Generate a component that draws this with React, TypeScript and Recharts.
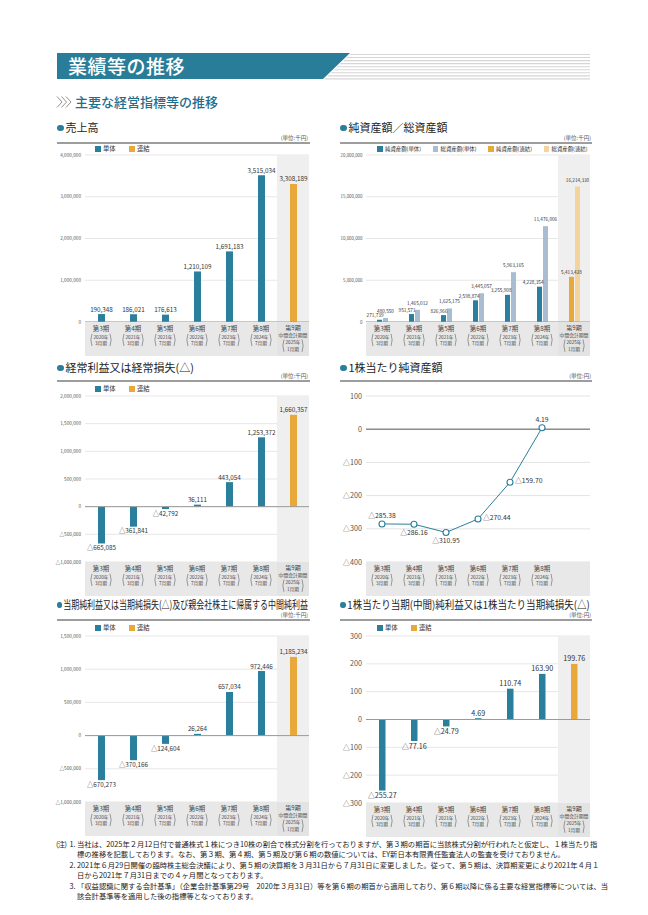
import React from "react";
import {
  BarChart,
  Bar,
  LineChart,
  Line,
  XAxis,
  YAxis,
  CartesianGrid,
  ReferenceArea,
  ReferenceLine,
  LabelList,
  Cell,
} from "recharts";

// 期ラベル
const periods = ["第3期", "第4期", "第5期", "第6期", "第7期", "第8期", "第9期"];
const fiscalYears = ["2020年", "2021年", "2021年", "2022年", "2023年", "2024年", "2025年"];
const fiscalMonths = ["3月期", "3月期", "7月期", "7月期", "7月期", "7月期", "1月期"];
const interimPeriod = "第9期";

// 単位:千円 / 円
const sales = [190348, 186021, 176613, 1210109, 1691183, 3515034, 3308189];
const netAssets = [271739, 951571, 826966, 2598874, 3255908, 4228354, 5413428];
const totalAssets = [480550, 1465012, 1625175, 3445057, 5963165, 11476006, 16214330];
const ordinaryIncome = [-665085, -361841, -42792, 36111, 443054, 1253372, 1660357];
const bookValuePerShare = [-285.38, -286.16, -310.95, -270.44, -159.7, 4.19, null];
const netIncome = [-670273, -370166, -124604, 26264, 657034, 972446, 1185234];
const earningsPerShare = [-255.27, -77.16, -24.79, 4.69, 110.74, 163.9, 199.76];

const salesTicks = [0, 1000000, 2000000, 3000000, 4000000];
const assetTicks = [0, 5000000, 10000000, 15000000, 20000000];
const ordinaryTicks = [-1000000, -500000, 0, 500000, 1000000, 1500000, 2000000];
const bpsTicks = [-400, -300, -200, -100, 0, 100];
const netIncomeTicks = [-1000000, -500000, 0, 500000, 1000000, 1500000];
const epsTicks = [-300, -200, -100, 0, 100, 200, 300];

const bpsLabelSide = ["above", "below", "below", "right", "right", "above"];

const singleLegend = [
  { label: "単体", color: "#2a7f9c" },
  { label: "連結", color: "#e9a83a" },
];
const assetLegend = [
  { label: "純資産額(単体)", color: "#2a7f9c" },
  { label: "総資産額(単体)", color: "#a8bdd0" },
  { label: "純資産額(連結)", color: "#e9a83a" },
  { label: "総資産額(連結)", color: "#f4d49d" },
];

const noteLines = [
  "当社は、2025年２月12日付で普通株式１株につき10株の割合で株式分割を行っておりますが、第３期の期首に当該株式分割が行われたと仮定し、１株当たり指",
  "標の推移を記載しております。なお、第３期、第４期、第５期及び第６期の数値については、EY新日本有限責任監査法人の監査を受けておりません。",
  "2021年６月29日開催の臨時株主総会決議により、第５期の決算期を３月31日から７月31日に変更しました。従って、第５期は、決算期変更により2021年４月１",
  "日から2021年７月31日までの４ヶ月間となっております。",
  "「収益認識に関する会計基準」（企業会計基準第29号　2020年３月31日）等を第６期の期首から適用しており、第６期以降に係る主要な経営指標等については、当",
  "該会計基準等を適用した後の指標等となっております。",
];
const noteNumbers = ["1.", "", "2.", "", "3.", ""];

const TEAL = "#2a7f9c";
const ORANGE = "#e9a83a";
const LIGHT_BLUE = "#a8bdd0";
const LIGHT_ORANGE = "#f4d49d";
const GRID = "#dcdcdc";
const ZERO = "#9a9a9a";
const BAND = "#efefef";
const TEXT = "#333";
const FONT = "'Noto Sans CJK JP', 'Noto Sans', sans-serif";

const TOP_PAD = 8;
const AXIS_H = 36;

const fmtInt = (v: number) => (v < 0 ? "△" : "") + Math.abs(v).toLocaleString("en-US");
const fmtDec = (v: number) => (v < 0 ? "△" : "") + Math.abs(v).toFixed(2);

function PeriodTick(props: any) {
  const { x, y, payload, band, hideInterim } = props;
  const i = periods.indexOf(payload.value);
  const interim = payload.value === interimPeriod;
  const showText = !(interim && hideInterim);
  const fill = interim && !hideInterim ? "#e3e3e3" : "#e8e8e8";
  const pTop = interim ? 17.5 : 11.8;
  const pBot = pTop + 12.3;
  const pw = 10.5;
  return (
    <g>
      <rect x={x - band / 2} y={y} width={band} height={34} fill={fill} />
      {showText && (
        <g fill="#444" fontFamily={FONT}>
          <text x={x} y={y + (interim ? 8.4 : 9.2)} textAnchor="middle" fontSize={interim ? 6 : 6.4}>
            {payload.value}
          </text>
          {interim && (
            <text x={x} y={y + 15.4} textAnchor="middle" fontSize={4.8}>
              中間会計期間
            </text>
          )}
          <text x={x} y={y + (interim ? 22.4 : 16.9)} textAnchor="middle" fontSize={4.7}>
            {fiscalYears[i]}
          </text>
          <text x={x} y={y + (interim ? 28.8 : 23.4)} textAnchor="middle" fontSize={4.7}>
            {fiscalMonths[i]}
          </text>
          <path
            d={`M ${x - pw + 1.5} ${y + pTop} Q ${x - pw - 0.8} ${y + (pTop + pBot) / 2} ${x - pw + 1.5} ${y + pBot}`}
            stroke="#555"
            strokeWidth={0.55}
            fill="none"
          />
          <path
            d={`M ${x + pw - 1.5} ${y + pTop} Q ${x + pw + 0.8} ${y + (pTop + pBot) / 2} ${x + pw - 1.5} ${y + pBot}`}
            stroke="#555"
            strokeWidth={0.55}
            fill="none"
          />
        </g>
      )}
    </g>
  );
}

function makeBarLabel(fontSize: number, fmt: (v: number) => string) {
  return (p: any) => {
    const vb = p.viewBox ?? p;
    if (p.value == null || vb == null || vb.x == null) return null;
    const v = Number(p.value);
    const top = Math.min(vb.y, vb.y + vb.height);
    const bottom = Math.max(vb.y, vb.y + vb.height);
    const cx = vb.x + vb.width / 2;
    return (
      <text
        x={cx}
        y={v < 0 ? bottom + fontSize + 0.5 : top - 2.5}
        textAnchor="middle"
        fontSize={fontSize}
        fill={TEXT}
        fontFamily={FONT}
      >
        {fmt(v)}
      </text>
    );
  };
}

function SingleBarChart(props: {
  left: number;
  top: number;
  width: number;
  yWidth: number;
  rightPad: number;
  plotH: number;
  values: number[];
  ticks: number[];
  tickFont: number;
  labelFont: number;
  barSize: number;
  fmt: (v: number) => string;
}) {
  const { left, top, width, yWidth, rightPad, plotH, values, ticks, tickFont, labelFont, barSize, fmt } = props;
  const data = periods.map((p, i) => ({ period: p, value: values[i] }));
  const band = (width - yWidth - rightPad) / periods.length;
  const domain: [number, number] = [ticks[0], ticks[ticks.length - 1]];
  return (
    <div style={{ position: "absolute", left, top }}>
      <BarChart
        width={width}
        height={TOP_PAD + plotH + AXIS_H}
        data={data}
        margin={{ top: TOP_PAD, right: rightPad, bottom: 0, left: 0 }}
      >
        <ReferenceArea
          x1={interimPeriod}
          x2={interimPeriod}
          y1={domain[0]}
          y2={domain[1]}
          fill={BAND}
          fillOpacity={1}
          stroke="none"
          ifOverflow="visible"
        />
        <CartesianGrid vertical={false} stroke={GRID} strokeWidth={0.7} />
        <XAxis
          dataKey="period"
          height={AXIS_H}
          interval={0}
          axisLine={false}
          tickLine={false}
          tickSize={0}
          tickMargin={0}
          tick={(p: any) => <PeriodTick {...p} band={band} />}
        />
        <YAxis
          width={yWidth}
          domain={domain}
          ticks={ticks}
          interval={0}
          axisLine={false}
          tickLine={false}
          tickSize={4}
          tickMargin={0}
          tick={{ fontSize: tickFont, fill: "#555", fontFamily: FONT }}
          tickFormatter={fmtInt}
        />
        <ReferenceLine y={0} stroke={ZERO} strokeWidth={1} />
        <Bar dataKey="value" barSize={barSize} isAnimationActive={false}>
          {data.map((d) => (
            <Cell key={d.period} fill={d.period === interimPeriod ? ORANGE : TEAL} />
          ))}
          <LabelList dataKey="value" content={makeBarLabel(labelFont, fmt)} />
        </Bar>
      </BarChart>
    </div>
  );
}

function AssetChart({ left, top }: { left: number; top: number }) {
  const width = 256;
  const yWidth = 30;
  const rightPad = 2;
  const plotH = 167;
  const data = periods.map((p, i) => ({ period: p, net: netAssets[i], total: totalAssets[i] }));
  const band = (width - yWidth - rightPad) / periods.length;
  const fs = 4.7;
  const netLabel = (p: any) => {
    const vb = p.viewBox ?? p;
    if (p.value == null || vb == null) return null;
    const topY = Math.min(vb.y, vb.y + vb.height);
    const last = Number(p.value) === netAssets[netAssets.length - 1];
    return (
      <text
        x={last ? vb.x + vb.width / 2 : vb.x + vb.width + 1.5}
        y={topY - 2.5}
        textAnchor={last ? "middle" : "end"}
        fontSize={fs}
        fill={TEXT}
        fontFamily={FONT}
      >
        {fmtInt(Number(p.value))}
      </text>
    );
  };
  const totalLabel = (p: any) => {
    const vb = p.viewBox ?? p;
    if (p.value == null || vb == null) return null;
    const topY = Math.min(vb.y, vb.y + vb.height);
    return (
      <text x={vb.x + vb.width / 2} y={topY - 5} textAnchor="middle" fontSize={fs} fill={TEXT} fontFamily={FONT}>
        {fmtInt(Number(p.value))}
      </text>
    );
  };
  return (
    <div style={{ position: "absolute", left, top }}>
      <BarChart
        width={width}
        height={TOP_PAD + plotH + AXIS_H}
        data={data}
        margin={{ top: TOP_PAD, right: rightPad, bottom: 0, left: 0 }}
        barGap={1}
      >
        <ReferenceArea
          x1={interimPeriod}
          x2={interimPeriod}
          y1={0}
          y2={20000000}
          fill={BAND}
          fillOpacity={1}
          stroke="none"
          ifOverflow="visible"
        />
        <CartesianGrid vertical={false} stroke={GRID} strokeWidth={0.7} />
        <XAxis
          dataKey="period"
          height={AXIS_H}
          interval={0}
          axisLine={false}
          tickLine={false}
          tickSize={0}
          tickMargin={0}
          tick={(p: any) => <PeriodTick {...p} band={band} />}
        />
        <YAxis
          width={yWidth}
          domain={[0, 20000000]}
          ticks={assetTicks}
          interval={0}
          axisLine={false}
          tickLine={false}
          tickSize={3.5}
          tickMargin={0}
          tick={{ fontSize: 4.4, fill: "#555", fontFamily: FONT }}
          tickFormatter={fmtInt}
        />
        <ReferenceLine y={0} stroke={ZERO} strokeWidth={1} />
        <Bar dataKey="net" barSize={5} isAnimationActive={false}>
          {data.map((d) => (
            <Cell key={d.period} fill={d.period === interimPeriod ? ORANGE : TEAL} />
          ))}
          <LabelList dataKey="net" content={netLabel} />
        </Bar>
        <Bar dataKey="total" barSize={5} isAnimationActive={false}>
          {data.map((d) => (
            <Cell key={d.period} fill={d.period === interimPeriod ? LIGHT_ORANGE : LIGHT_BLUE} />
          ))}
          <LabelList dataKey="total" content={totalLabel} />
        </Bar>
      </BarChart>
    </div>
  );
}

function BookValueChart({ left, top }: { left: number; top: number }) {
  const width = 256;
  const yWidth = 30;
  const rightPad = 2;
  const plotH = 166;
  const data = periods.map((p, i) => ({ period: p, value: bookValuePerShare[i] }));
  const band = (width - yWidth - rightPad) / periods.length;
  const pointLabel = (p: any) => {
    const vb = p.viewBox ?? p;
    if (p.value == null || vb == null || vb.x == null) return null;
    const v = Number(p.value);
    const idx = p.index ?? bookValuePerShare.indexOf(v);
    const side = bpsLabelSide[idx] ?? "above";
    let x = vb.x;
    let y = vb.y - 5.5;
    let anchor: "middle" | "start" = "middle";
    if (side === "below") y = vb.y + 11;
    if (side === "right") {
      x = vb.x + 5;
      y = vb.y + 1;
      anchor = "start";
    }
    return (
      <text x={x} y={y} textAnchor={anchor} fontSize={6.8} fill={TEXT} fontFamily={FONT}>
        {fmtDec(v)}
      </text>
    );
  };
  return (
    <div style={{ position: "absolute", left, top }}>
      <LineChart
        width={width}
        height={TOP_PAD + plotH + AXIS_H}
        data={data}
        margin={{ top: TOP_PAD, right: rightPad, bottom: 0, left: 0 }}
      >
        <CartesianGrid vertical={false} stroke={GRID} strokeWidth={0.8} />
        <XAxis
          dataKey="period"
          scale="band"
          height={AXIS_H}
          interval={0}
          axisLine={false}
          tickLine={false}
          tickSize={0}
          tickMargin={0}
          tick={(p: any) => <PeriodTick {...p} band={band} hideInterim />}
        />
        <YAxis
          width={yWidth}
          domain={[-400, 100]}
          ticks={bpsTicks}
          interval={0}
          axisLine={false}
          tickLine={false}
          tickSize={4}
          tickMargin={0}
          tick={{ fontSize: 7.2, fill: "#555", fontFamily: FONT }}
          tickFormatter={fmtInt}
        />
        <ReferenceLine y={0} stroke="#8e8e8e" strokeWidth={1.6} />
        <Line
          dataKey="value"
          stroke={TEAL}
          strokeWidth={1}
          dot={{ r: 3, fill: "#fff", stroke: TEAL, strokeWidth: 1.1 }}
          isAnimationActive={false}
        >
          <LabelList dataKey="value" content={pointLabel} />
        </Line>
      </LineChart>
    </div>
  );
}

function Title({ left, top, text, fitWidth }: { left: number; top: number; text: string; fitWidth?: number }) {
  const ref = React.useRef<HTMLDivElement>(null);
  const [k, setK] = React.useState(1);
  React.useLayoutEffect(() => {
    if (fitWidth && ref.current) {
      const w = ref.current.offsetWidth;
      if (w > fitWidth) setK(fitWidth / w);
    }
  }, [fitWidth]);
  return (
    <div
      ref={ref}
      style={{
        position: "absolute",
        left,
        top,
        whiteSpace: "nowrap",
        fontSize: 11,
        lineHeight: "13px",
        color: "#222",
        transform: `scaleX(${k})`,
        transformOrigin: "left center",
      }}
    >
      <span
        style={{
          display: "inline-block",
          width: 6.5,
          height: 6.5,
          borderRadius: "50%",
          background: TEAL,
          marginRight: 2,
          verticalAlign: "1px",
        }}
      />
      {text}
    </div>
  );
}

function Unit({ right, top, text }: { right: number; top: number; text: string }) {
  return (
    <div
      style={{
        position: "absolute",
        left: right - 60,
        width: 60,
        top,
        textAlign: "right",
        fontSize: 5.5,
        lineHeight: "7px",
        color: "#555",
      }}
    >
      {text}
    </div>
  );
}

function Rule({ left, width, top }: { left: number; width: number; top: number }) {
  return <div style={{ position: "absolute", left, width, top, height: 2, background: "#9d9d9d" }} />;
}

function LegendRow(props: {
  left: number;
  top: number;
  items: { label: string; color: string }[];
  itemWidth: number;
  fontSize: number;
  box: number;
}) {
  const { left, top, items, itemWidth, fontSize, box } = props;
  return (
    <div
      style={{
        position: "absolute",
        left,
        top,
        display: "flex",
        alignItems: "center",
        fontSize,
        lineHeight: "8px",
        color: TEXT,
        whiteSpace: "nowrap",
      }}
    >
      {items.map((it) => (
        <div key={it.label} style={{ width: itemWidth, display: "flex", alignItems: "center" }}>
          <span style={{ display: "inline-block", width: box, height: box, background: it.color, marginRight: 2.5 }} />
          {it.label}
        </div>
      ))}
    </div>
  );
}

function Header() {
  const stripes = [];
  for (let i = 0; i < 9; i++) {
    const y = 54.5 + i * 3.05;
    const xs = 350 - (y - 53) * (27 / 26) + 1.5;
    stripes.push(<line key={i} x1={xs} x2={590} y1={y} y2={y} stroke="#d6d6d6" strokeWidth={1.1} />);
  }
  return (
    <>
      <svg width={648} height={120} style={{ position: "absolute", left: 0, top: 0 }}>
        <polygon points="57,53 350,53 323,79 57,79" fill="#2a7d99" />
        {stripes}
        {[57, 61.5, 66].map((a) => (
          <path key={a} d={`M ${a} 96.5 L ${a + 5} 102 L ${a} 107.5`} stroke="#777" strokeWidth={0.8} fill="none" />
        ))}
      </svg>
      <div
        style={{
          position: "absolute",
          left: 68,
          top: 53,
          fontSize: 19,
          lineHeight: "26px",
          color: "#fff",
          fontWeight: 500,
          letterSpacing: 0.5,
        }}
      >
        業績等の推移
      </div>
      <div
        style={{
          position: "absolute",
          left: 75,
          top: 93,
          fontSize: 13,
          lineHeight: "18px",
          color: "#1f6e8c",
          fontWeight: 500,
        }}
      >
        主要な経営指標等の推移
      </div>
    </>
  );
}

function Notes() {
  const top0 = 839;
  const step = 10.4;
  const base = { position: "absolute" as const, fontSize: 7.3, lineHeight: "10px", color: "#222" };
  return (
    <>
      <div style={{ ...base, left: 56, top: top0, letterSpacing: -0.6 }}>(注)</div>
      {noteLines.map((line, i) => {
        const justify = i === 0 || i === 2 || i === 4;
        return (
          <React.Fragment key={i}>
            {noteNumbers[i] && <div style={{ ...base, left: 69.5, top: top0 + i * step }}>{noteNumbers[i]}</div>}
            <div
              style={{
                ...base,
                left: 77,
                width: 516,
                top: top0 + i * step,
                whiteSpace: "nowrap",
                textAlign: justify ? "justify" : "left",
                textAlignLast: justify ? "justify" : "left",
              }}
            >
              {line}
            </div>
          </React.Fragment>
        );
      })}
    </>
  );
}

export default function App() {
  return (
    <div
      style={{
        position: "absolute",
        left: 0,
        top: 0,
        width: 648,
        height: 915,
        background: "#fff",
        fontFamily: FONT,
        overflow: "hidden",
      }}
    >
      <Header />

      {/* 売上高 */}
      <Title left={57} top={121} text="売上高" />
      <Unit right={308} top={135} text="(単位:千円)" />
      <Rule left={57} width={253} top={142} />
      <SingleBarChart
        left={53}
        top={147}
        width={257}
        yWidth={32}
        rightPad={1}
        plotH={167}
        values={sales}
        ticks={salesTicks}
        tickFont={4.7}
        labelFont={6.3}
        barSize={7}
        fmt={fmtInt}
      />
      <LegendRow left={95} top={145} items={singleLegend} itemWidth={34} fontSize={6.3} box={5.5} />

      {/* 純資産額／総資産額 */}
      <Title left={340} top={121} text="純資産額／総資産額" />
      <Unit right={591} top={135} text="(単位:千円)" />
      <Rule left={340} width={252} top={142} />
      <AssetChart left={336} top={147} />
      <LegendRow left={377} top={145} items={assetLegend} itemWidth={55.5} fontSize={5.4} box={5.5} />

      {/* 経常利益 */}
      <Title left={57} top={361} text="経常利益又は経常損失(△)" />
      <Unit right={308} top={373} text="(単位:千円)" />
      <Rule left={57} width={253} top={380} />
      <SingleBarChart
        left={53}
        top={388}
        width={257}
        yWidth={32}
        rightPad={1}
        plotH={166}
        values={ordinaryIncome}
        ticks={ordinaryTicks}
        tickFont={4.7}
        labelFont={6.3}
        barSize={7}
        fmt={fmtInt}
      />
      <LegendRow left={95} top={385} items={singleLegend} itemWidth={34} fontSize={6.3} box={5.5} />

      {/* 1株当たり純資産額 */}
      <Title left={340} top={361} text="1株当たり純資産額" />
      <Unit right={591} top={373} text="(単位:円)" />
      <Rule left={340} width={252} top={380} />
      <BookValueChart left={336} top={388} />

      {/* 当期純利益 */}
      <Title left={57} top={598} text="当期純利益又は当期純損失(△)及び親会社株主に帰属する中間純利益" fitWidth={251} />
      <Unit right={308} top={612} text="(単位:千円)" />
      <Rule left={57} width={253} top={619} />
      <SingleBarChart
        left={53}
        top={628}
        width={257}
        yWidth={32}
        rightPad={1}
        plotH={166}
        values={netIncome}
        ticks={netIncomeTicks}
        tickFont={4.7}
        labelFont={6.3}
        barSize={7}
        fmt={fmtInt}
      />
      <LegendRow left={95} top={624} items={singleLegend} itemWidth={34} fontSize={6.3} box={5.5} />

      {/* 1株当たり当期純利益 */}
      <Title left={340} top={598} text="1株当たり当期(中間)純利益又は1株当たり当期純損失(△)" fitWidth={250} />
      <Unit right={591} top={612} text="(単位:円)" />
      <Rule left={340} width={252} top={619} />
      <SingleBarChart
        left={336}
        top={628}
        width={256}
        yWidth={30}
        rightPad={2}
        plotH={167}
        values={earningsPerShare}
        ticks={epsTicks}
        tickFont={7.2}
        labelFont={7.2}
        barSize={6.5}
        fmt={fmtDec}
      />
      <LegendRow left={377} top={624} items={singleLegend} itemWidth={34} fontSize={6.3} box={5.5} />

      <Notes />
    </div>
  );
}
